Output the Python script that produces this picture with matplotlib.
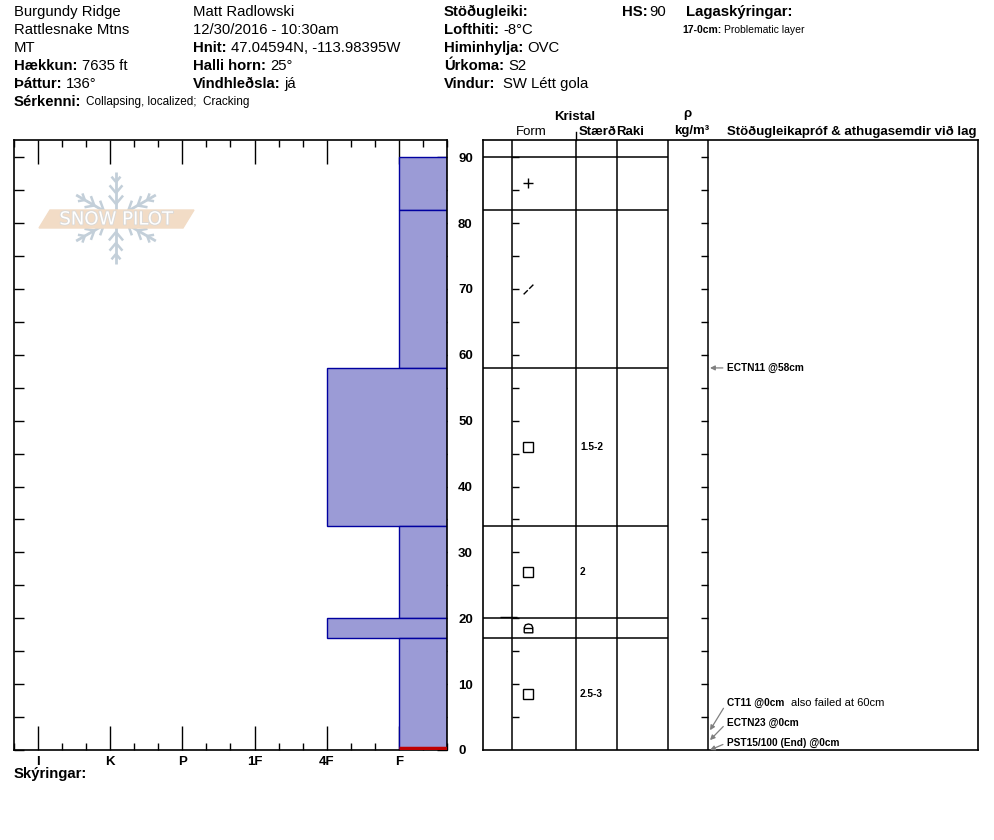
import matplotlib.pyplot as plt
import matplotlib.patheffects as pe
from matplotlib.path import Path
import numpy as np

plt.rcParams['font.family'] = ['Liberation Sans', 'DejaVu Sans']

# ---- data ----
layer_top = [90, 82, 58, 34, 20, 17]
layer_bottom = [82, 58, 34, 20, 17, 0]
layer_hardness = ['F', 'F', '4F', 'F', '4F', 'F']
layer_form = ['+', '/', 'sq', 'sq', 'rnd', 'sq']
layer_size = ['', '', '1.5-2', '2', '', '2.5-3']

hardness_names = ['I', 'K', 'P', '1F', '4F', 'F']
hardness_pos = [1, 4, 7, 10, 13, 16]

test_text = ['ECTN11 @58cm', 'CT11 @0cm', 'ECTN23 @0cm', 'PST15/100 (End) @0cm']
test_extra = ['', 'also failed at 60cm', '', '']
test_depth = [58, 0, 0, 0]

HS = 90

W, H = 994, 840
fig = plt.figure(figsize=(W / 100, H / 100), dpi=100)
renderer = fig.canvas.get_renderer()


def fx(x):
    return x / W


def fy(y):
    return 1 - y / H


def put(x, y, s, size=10.7, bold=False, **kw):
    return fig.text(fx(x), fy(y), s, fontsize=size,
                    fontweight='bold' if bold else 'normal', va='center', **kw)


def pair(x, y, label, value, size=10.7, vsize=None, gap=4):
    t = put(x, y, label, size, bold=True)
    bb = t.get_window_extent(renderer)
    put(bb.x1 + gap, y, value, vsize or size)


# ---- header ----
put(14, 12, 'Burgundy Ridge')
put(14, 30, 'Rattlesnake Mtns')
put(14, 48, 'MT')
pair(14, 66, 'Hækkun:', '7635 ft')
pair(14, 84, 'Þáttur:', '136°')
pair(14, 102, 'Sérkenni:', 'Collapsing, localized;  Cracking', vsize=8.5)

put(193, 12, 'Matt Radlowski')
put(193, 30, '12/30/2016 - 10:30am')
pair(193, 48, 'Hnit:', '47.04594N, -113.98395W')
pair(193, 66, 'Halli horn:', '25°')
pair(193, 84, 'Vindhleðsla:', 'já')

put(444, 12, 'Stöðugleiki:', bold=True)
pair(444, 30, 'Lofthiti:', '-8°C')
pair(444, 48, 'Himinhylja:', 'OVC')
pair(444, 66, 'Úrkoma:', 'S2')
pair(444, 84, 'Vindur:', 'SW Létt gola', gap=8)

pair(622, 12, 'HS:', str(HS), gap=1)
put(686, 12, 'Lagaskýringar:', bold=True)
pair(682, 30, '17-0cm:', 'Problematic layer', size=7.5, gap=3)

put(14, 774, 'Skýringar:', bold=True)

# ---- hardness profile ----
ymax = 92.6
ax = fig.add_axes([fx(14), fy(750), (447 - 14) / W, (750 - 140) / H])
ax.set_facecolor('none')
ax.set_xlim(0, 18)
ax.set_ylim(0, ymax)
hpos = dict(zip(hardness_names, hardness_pos))
for top, bot, h in zip(layer_top, layer_bottom, layer_hardness):
    ax.barh(bot, 18 - hpos[h], height=top - bot, left=hpos[h], align='edge',
            color='#9b9bd6', edgecolor='#0000a0', linewidth=1, zorder=2)
ax.hlines(0.25, 16, 18, color='#c00000', linewidth=2.5, zorder=3)

ax.set_xticks(hardness_pos)
ax.set_xticklabels(hardness_names, fontsize=9.5, fontweight='bold')
ax.set_xticks(np.arange(0, 19, 1), minor=True)
ax.tick_params(axis='x', which='major', direction='in', length=17, width=1,
               top=True, bottom=True, pad=4)
ax.tick_params(axis='x', which='minor', direction='in', length=5, width=1,
               top=True, bottom=True)
ax.set_yticks(np.arange(0, 91, 10))
ax.set_yticks(np.arange(5, 91, 10), minor=True)
ax.tick_params(axis='y', which='both', direction='in', length=7, width=1,
               left=True, right=True, labelleft=False, labelright=True, pad=8)
for lab in ax.get_yticklabels():
    lab.set_fontweight('bold')
    lab.set_fontsize(9.5)
for s in ax.spines.values():
    s.set_linewidth(1.2)

# ---- layer table ----
tx = fig.add_axes([fx(483), fy(750), (978 - 483) / W, (750 - 140) / H])
tx.set_facecolor('none')
tx.set_xlim(483, 978)
tx.set_ylim(0, ymax)
tx.set_xticks([])
tx.set_yticks([])
for s in tx.spines.values():
    s.set_linewidth(1.2)
col_lines = [512, 576, 617, 668, 708]
for c in col_lines:
    tx.axvline(c, color='black', linewidth=1.1)
bounds = sorted(set(layer_top + layer_bottom))
tx.hlines([b for b in bounds if b > 0], 483, 668, color='black', linewidth=1.1)
tick_depths = np.arange(5, 91, 5)
tx.hlines(tick_depths, 512, 519, color='black', linewidth=1)
tx.hlines(tick_depths, 701, 708, color='black', linewidth=1)
tx.hlines(20.2, 500, 517, color='black', linewidth=1)

rnd_marker = Path([(-1, -1), (-1, 0.2), (-0.7, 0.85), (0, 1.05), (0.7, 0.85), (1, 0.2),
                   (1, -1), (-1, -1), (-1, 0), (1, 0)],
                  [Path.MOVETO, Path.LINETO, Path.LINETO, Path.LINETO, Path.LINETO,
                   Path.LINETO, Path.LINETO, Path.LINETO, Path.MOVETO, Path.LINETO])
for top, bot, f, sz in zip(layer_top, layer_bottom, layer_form, layer_size):
    mid = (top + bot) / 2
    if f == '+':
        tx.plot(528, mid, marker='+', markersize=7, color='black', mew=1)
    elif f == '/':
        tx.plot(528, mid, marker=Path([(-1, -1), (-0.15, -0.15), (0.15, 0.15), (1, 1)],
                                      [Path.MOVETO, Path.LINETO, Path.MOVETO, Path.LINETO]),
                markersize=7, color='black', mew=1)
    elif f == 'sq':
        tx.plot(528, mid, marker='s', markersize=6.5, mfc='none', mec='black', mew=1)
    elif f == 'rnd':
        tx.plot(528, mid, marker=rnd_marker, markersize=6.5, mfc='none', mec='black', mew=1)
    if sz:
        tx.text(580, mid, sz, fontsize=7.3, fontweight='bold', va='center')

# stability tests
stack = 0
for txt, extra, d in zip(test_text, test_extra, test_depth):
    if d > 0:
        ly, tip = d, d
    else:
        n_low = sum(1 for v in test_depth if v == 0)
        ly = 1.1 + 3.05 * (n_low - 1 - stack)
        tip = 1.5 * (n_low - 1 - stack)
        stack += 1
    t = tx.annotate(txt, xy=(710, tip), xytext=(727, ly), fontsize=7.3,
                    fontweight='bold', va='center',
                    arrowprops=dict(arrowstyle='-|>', color='#808080', lw=0.9,
                                    mutation_scale=7, shrinkA=1, shrinkB=0,
                                    relpos=(0, 0.5)))
    if extra:
        bb = t.get_window_extent(renderer)
        inv = tx.transData.inverted()
        xe = inv.transform((bb.x1, 0))[0]
        tx.text(xe + 7, ly, extra, fontsize=8, va='center')

# table headers
put(575, 117, 'Kristal', 9.5, bold=True, ha='center')
put(516, 132, 'Form', 9.5)
put(579, 132, 'Stærð', 9.5, bold=True)
put(616, 132, 'Raki', 9.5, bold=True)
put(687, 114, 'ρ', 9.5, bold=True, ha='center')
put(692, 131, 'kg/m³', 9.5, bold=True, ha='center')
put(727, 132, 'Stöðugleikapróf & athugasemdir við lag', 9.5, bold=True)

# ---- overlay: logo and small details ----
ov = fig.add_axes([0, 0, 1, 1])
ov.set_xlim(0, W)
ov.set_ylim(H, 0)
ov.axis('off')
ov.plot([576, 576], [132, 140], color='black', linewidth=1)

cx, cy, L = 116, 218, 46
flake = '#c3cfd9'
for a in np.deg2rad([90, 30, 150, 210, 270, 330]):
    dx, dy = np.cos(a), -np.sin(a)
    ov.plot([cx, cx + L * dx], [cy, cy + L * dy], color=flake, lw=2, solid_capstyle='butt')
    for dist, bl in [(14, 11), (25, 10), (36, 7)]:
        bx, by = cx + dist * dx, cy + dist * dy
        for s in (1, -1):
            b = a + s * np.deg2rad(40)
            ov.plot([bx, bx + bl * np.cos(b)], [by, by - bl * np.sin(b)],
                    color=flake, lw=1.8, solid_capstyle='butt')
ov.fill([39, 50, 194, 183], [228, 210, 210, 228], color='#f2dcc6', zorder=3)
ov.text(116, 219.5, 'SNOW PILOT', fontsize=13, color='white', ha='center', va='center',
        family='DejaVu Sans', zorder=4,
        path_effects=[pe.withStroke(linewidth=1.2, foreground='#d9d9d9')])

fig.savefig('out.png', dpi=100, facecolor='white')
